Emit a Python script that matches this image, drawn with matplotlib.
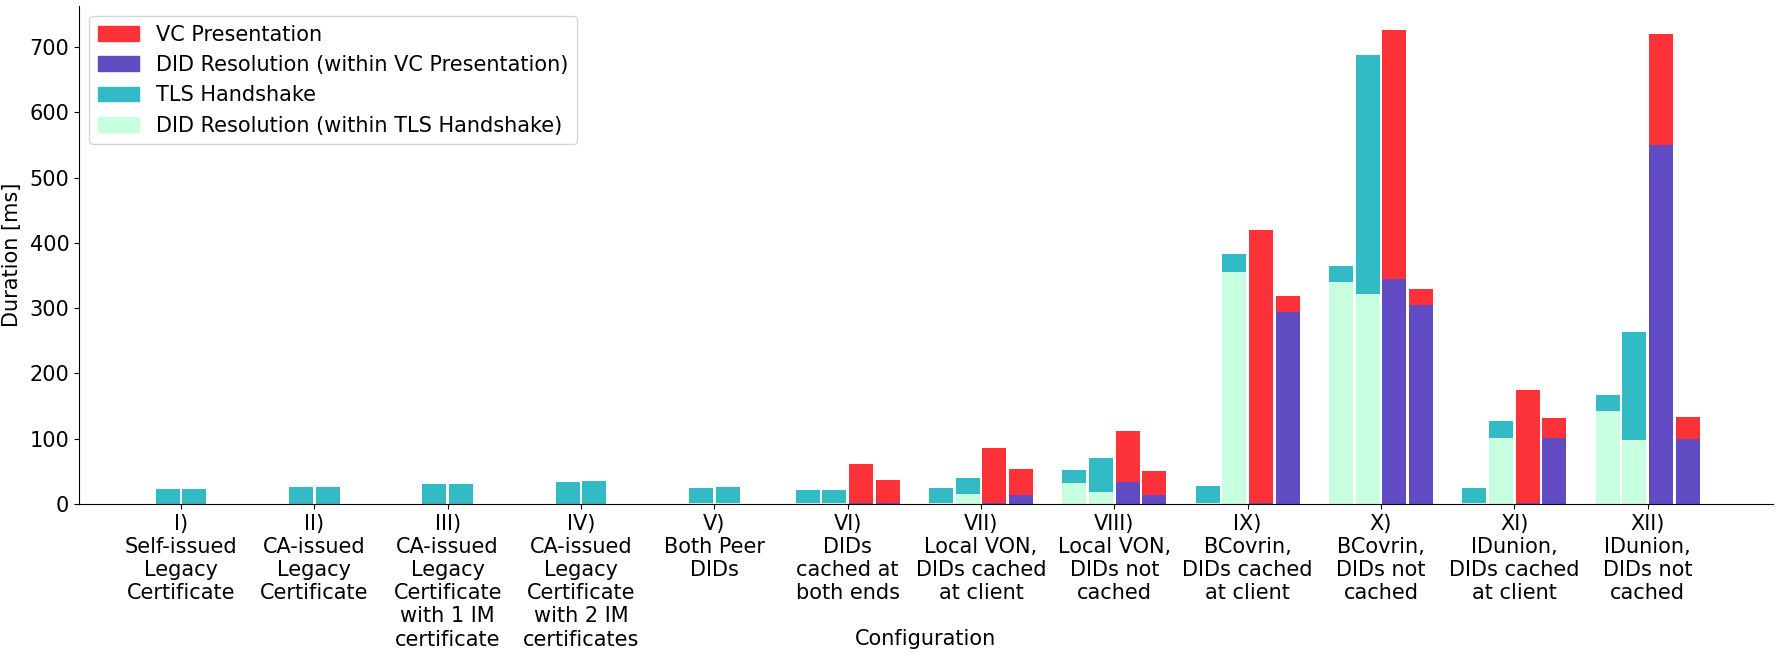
import matplotlib
matplotlib.use("Agg")
import matplotlib.pyplot as plt
import matplotlib.patches as mpatches
import numpy as np

# Configuration labels (x axis)
configs = [
    "I)\nSelf-issued\nLegacy\nCertificate",
    "II)\nCA-issued\nLegacy\nCertificate",
    "III)\nCA-issued\nLegacy\nCertificate\nwith 1 IM\ncertificate",
    "IV)\nCA-issued\nLegacy\nCertificate\nwith 2 IM\ncertificates",
    "V)\nBoth Peer\nDIDs",
    "VI)\nDIDs\ncached at\nboth ends",
    "VII)\nLocal VON,\nDIDs cached\nat client",
    "VIII)\nLocal VON,\nDIDs not\ncached",
    "IX)\nBCovrin,\nDIDs cached\nat client",
    "X)\nBCovrin,\nDIDs not\ncached",
    "XI)\nIDunion,\nDIDs cached\nat client",
    "XII)\nIDunion,\nDIDs not\ncached",
]

# TLS handshake durations [ms] (two bars per configuration)
tls_a = [23, 26, 31, 34, 24.5, 21.5, 24.5, 52, 28, 364, 24.5, 167]
tls_b = [23, 26, 31, 35, 26, 21.5, 40, 70, 383, 688, 127, 263]
tls_did_a = [0, 0, 0, 0, 0.5, 1, 1.5, 32, 2, 340, 1, 142]
tls_did_b = [0, 0, 0, 0, 0.5, 1, 15, 18, 355, 322, 101, 98]

# VC presentation durations [ms] (only for configurations VI-XII)
vc_a = [None, None, None, None, None, 61, 86, 112, 420, 727, 175, 721]
vc_b = [None, None, None, None, None, 37, 54, 50.5, 318, 329, 132, 133]
vc_did_a = [None, None, None, None, None, 1, 1, 34, 1.5, 345, 1.5, 550]
vc_did_b = [None, None, None, None, None, 0.5, 14, 14, 294, 305, 101.5, 99.5]

c_vc = "#fc3238"
c_vc_did = "#614bc3"
c_tls = "#33bbc5"
c_tls_did = "#c8ffe0"

plt.rcParams["font.size"] = 15

fig = plt.figure(figsize=(17.8, 6.56), dpi=100)
ax = fig.add_axes([0.0444, 0.232, 0.9516, 0.759])

pitch = 0.2
width = 0.18
x = np.arange(len(configs))

for i in range(len(configs)):
    if vc_a[i] is None:
        offs = [-0.5 * pitch, 0.5 * pitch]
    else:
        offs = [-1.5 * pitch, -0.5 * pitch, 0.5 * pitch, 1.5 * pitch]
    # TLS handshake bars with DID resolution inside
    ax.bar(x[i] + offs[0], tls_a[i], width, color=c_tls)
    ax.bar(x[i] + offs[0], tls_did_a[i], width, color=c_tls_did)
    ax.bar(x[i] + offs[1], tls_b[i], width, color=c_tls)
    ax.bar(x[i] + offs[1], tls_did_b[i], width, color=c_tls_did)
    if vc_a[i] is not None:
        ax.bar(x[i] + offs[2], vc_a[i], width, color=c_vc)
        ax.bar(x[i] + offs[2], vc_did_a[i], width, color=c_vc_did)
        ax.bar(x[i] + offs[3], vc_b[i], width, color=c_vc)
        ax.bar(x[i] + offs[3], vc_did_b[i], width, color=c_vc_did)

ax.set_xticks(x)
ax.set_xticklabels(configs)
ax.set_xlim(-0.765, 11.94)
ax.set_ylabel("Duration [ms]")
ax.yaxis.set_label_coords(-0.0335, 0.5)
ax.set_xlabel("Configuration")
ax.xaxis.set_label_coords(0.5, -0.252)

for spine in ["top", "right"]:
    ax.spines[spine].set_visible(False)

handles = [
    mpatches.Patch(color=c_vc, label="VC Presentation"),
    mpatches.Patch(color=c_vc_did, label="DID Resolution (within VC Presentation)"),
    mpatches.Patch(color=c_tls, label="TLS Handshake"),
    mpatches.Patch(color=c_tls_did, label="DID Resolution (within TLS Handshake)"),
]
ax.legend(handles=handles, loc="upper left")

plt.savefig("out.png", dpi=100)
plt.close(fig)
